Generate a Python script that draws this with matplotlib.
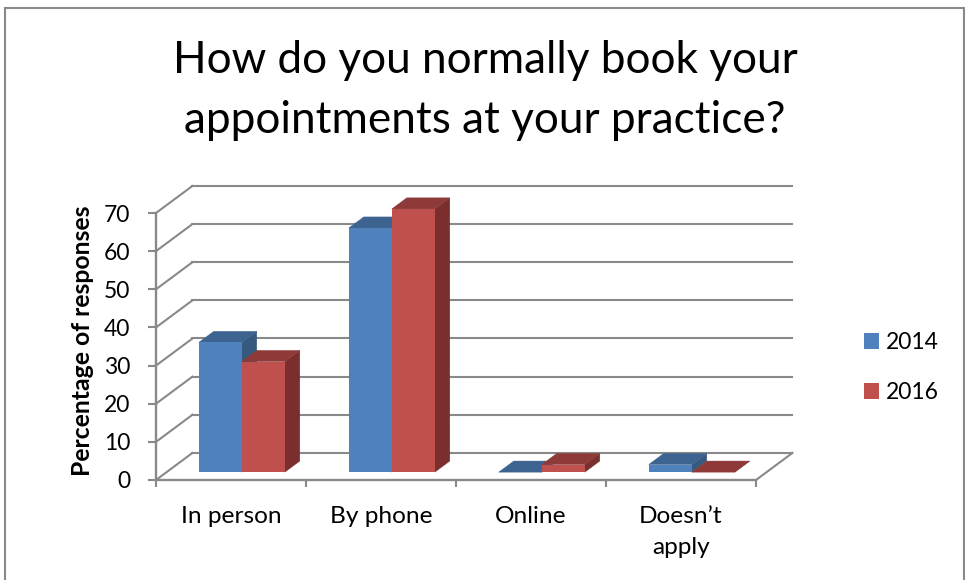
#! /usr/bin/env python3

import matplotlib
matplotlib.use('Agg')
import matplotlib.pyplot as plt
from matplotlib.patches import Polygon, Rectangle

plt.rcParams['font.family'] = ['Lato', 'DejaVu Sans']

title = 'How do you normally book your\nappointments at your practice?'
ylabel = 'Percentage of responses'
categories = ['In person', 'By phone', 'Online', 'Doesn\u2019t\napply']
years = ['2014', '2016']
values_2014 = [34, 64, 0, 2]
values_2016 = [29, 69, 2, 0]
yticks = [0, 10, 20, 30, 40, 50, 60, 70]

W, H = 965, 580
GREY = '#898989'

# depth of the 3d box, in data units
DEPTH_X = 0.243
DEPTH_Y = 7.1
BAR_W = 0.287
D_FRONT = 0.29
D_BACK = 0.70

faces = dict(blue=('#4F81BD', '#3D6391', '#36597F'), red=('#C0504D', '#8E3A38', '#7A2F2E'))


def draw_wall(ax):
    for v in yticks:
        ax.plot([0, DEPTH_X], [v, v + DEPTH_Y], color=GREY, lw=1.5, clip_on=False, zorder=1)
        ax.plot([DEPTH_X, 4 + DEPTH_X], [v + DEPTH_Y, v + DEPTH_Y], color=GREY, lw=1.5, clip_on=False, zorder=1)
    ax.plot([4, 4 + DEPTH_X], [0, DEPTH_Y], color=GREY, lw=1.5, clip_on=False, zorder=1)


def draw_bar(ax, x, v, cols, z):
    front, top, side = cols
    fx = x + D_FRONT * DEPTH_X
    fy = D_FRONT * DEPTH_Y
    dx = (D_BACK - D_FRONT) * DEPTH_X
    dy = (D_BACK - D_FRONT) * DEPTH_Y
    ax.add_patch(Polygon([(fx + BAR_W, fy), (fx + BAR_W + dx, fy + dy),
                          (fx + BAR_W + dx, fy + v + dy), (fx + BAR_W, fy + v)],
                         fc=side, ec=side, lw=0.3, clip_on=False, zorder=z))
    ax.add_patch(Polygon([(fx, fy + v), (fx + dx, fy + v + dy),
                          (fx + BAR_W + dx, fy + v + dy), (fx + BAR_W, fy + v)],
                         fc=top, ec=top, lw=0.3, clip_on=False, zorder=z))
    ax.bar(fx, v, BAR_W, bottom=fy, align='edge', color=front, clip_on=False, zorder=z)


fig = plt.figure(figsize=(W / 100, H / 100), dpi=100)
fig.patch.set_facecolor('white')
fig.add_artist(Rectangle((5 / W, -5 / H), 959 / W, (H - 8 + 5) / H, transform=fig.transFigure,
                         fc='white', ec=GREY, lw=1.5, zorder=-1))

ax = fig.add_axes([156 / W, (H - 480) / H, 600 / W, 267 / H])
ax.patch.set_alpha(0)
ax.set_xlim(0, 4)
ax.set_ylim(0, 70)

draw_wall(ax)
for i in range(len(categories)):
    left = i + 0.5 - BAR_W - D_FRONT * DEPTH_X + 0.072
    draw_bar(ax, left, values_2014[i], faces['blue'], 3 + i * 2)
    draw_bar(ax, left + BAR_W, values_2016[i], faces['red'], 4 + i * 2)

for s in ['top', 'right']:
    ax.spines[s].set_visible(False)
for s in ['left', 'bottom']:
    ax.spines[s].set_color(GREY)
    ax.spines[s].set_linewidth(1.7)

ax.set_yticks(yticks)
ax.tick_params(axis='y', length=6, width=1.5, color=GREY, labelsize=16.5, pad=12.5)
ax.set_xticks([0, 1, 2, 3, 4])
ax.set_xticklabels([])
ax.tick_params(axis='x', which='major', length=5, width=1.5, color=GREY)
ax.set_xticks([i + 0.5 for i in range(4)], minor=True)
ax.set_xticklabels(categories, minor=True, fontsize=17.6, linespacing=1.6)
ax.tick_params(axis='x', which='minor', length=0, pad=18.5)
ax.set_ylabel(ylabel, fontsize=17.8, fontweight='bold', va='center')
ax.yaxis.set_label_coords(-73 / 600, 139.5 / 267)

fig.text(485 / W, 1 - 90.5 / H, title, fontsize=31.8, ha='center', va='center', linespacing=1.55)

blue_h = Rectangle((0, 0), 1, 1, fc=faces['blue'][0])
red_h = Rectangle((0, 0), 1, 1, fc=faces['red'][0])
fig.legend([blue_h, red_h], years, loc='center left', bbox_to_anchor=(843 / W, 1 - 367.5 / H),
           frameon=False, fontsize=16.5, handlelength=0.68, handleheight=0.68,
           handletextpad=0.3, labelspacing=1.25)

fig.savefig('out.png', dpi=100)
